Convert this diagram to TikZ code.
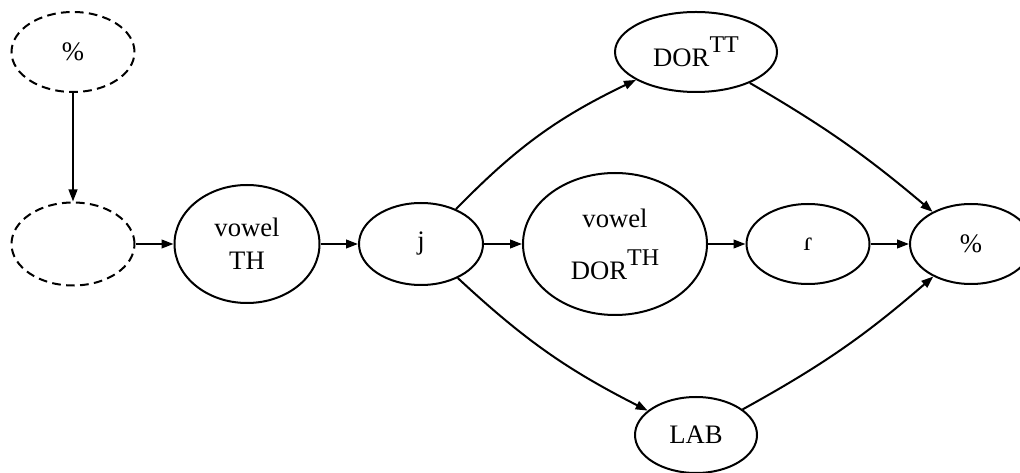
\documentclass[tikz,border=0pt]{standalone}
\usepackage{fontspec}
\setmainfont{Liberation Serif}
\usetikzlibrary{arrows.meta,shapes.geometric}

% raised, slightly smaller tier label
\newcommand\tiersup[1]{\raisebox{10.5pt}{\fontsize{18}{20}\selectfont #1}}

\begin{document}
\begin{tikzpicture}[x=0.75pt,y=0.75pt,
  every node/.style={font=\fontsize{20}{25}\selectfont},
  sz/.style 2 args={minimum width={#1*0.75pt}, minimum height={#2*0.75pt}},
  seg/.style={ellipse, draw, line width=1.5pt, inner sep=0pt, align=center},
  ghost/.style={seg, dash pattern=on 6.5pt off 4pt},
  link/.style={line width=1.5pt, -{Triangle[length=9pt,width=6.5pt]}}]
\useasboundingbox (0,0) rectangle (1020,-473);

% nodes
\node[ghost, sz={123}{80}]  (pctTop)   at (73,-52)   {\%};
\node[ghost, sz={123}{83}]  (blank)    at (73,-244)  {};
\node[seg,   sz={145}{118}] (vowelTH)  at (247,-244) {vowel\\TH};
\node[seg,   sz={124}{82}]  (j)        at (421,-244) {j};
\node[seg,   sz={184}{142}] (vowelDOR) at (615,-244) {vowel\\[14pt]DOR\tiersup{TH}};
\node[seg,   sz={123}{80}]  (tap)      at (808,-244) {ɾ};
\node[seg,   sz={122}{80}]  (pctR)     at (971,-244) {\%};
\node[seg,   sz={162}{80}]  (dortt)    at (696,-52)  {DOR\tiersup{TT}};
\node[seg,   sz={122}{76}]  (lab)      at (696,-435) {LAB};

% connectors
\draw[link] (pctTop) -- (blank);
\draw[link] (blank) -- (vowelTH);
\draw[link] (vowelTH) -- (j);
\draw[link] (j) -- (vowelDOR);
\draw[link] (vowelDOR) -- (tap);
\draw[link] (tap) -- (pctR);
\draw[link] (j) to[bend left=10] (dortt);
\draw[link] (dortt) to[bend left=5] (pctR);
\draw[link] (j) to[bend right=8] (lab);
\draw[link] (lab) to[bend right=6] (pctR);
\end{tikzpicture}
\end{document}
